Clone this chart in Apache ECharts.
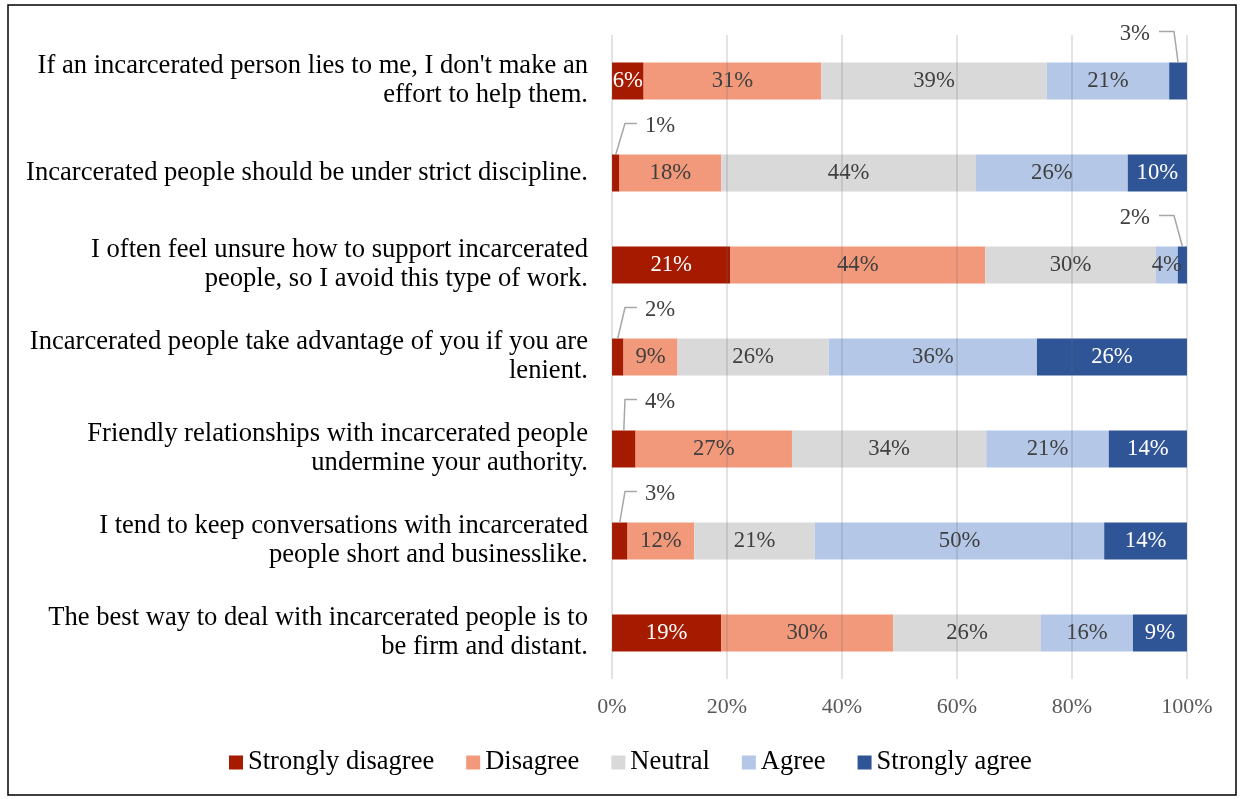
<!DOCTYPE html>
<html>
<head>
<meta charset="utf-8">
<script src="https://cdn.jsdelivr.net/npm/echarts@6/dist/echarts.min.js"></script>
<style>
  html, body { margin: 0; padding: 0; background: #fff; }
  #chart { width: 1241px; height: 799px; }
</style>
</head>
<body>
<div id="chart"></div>
<script>
// Survey statements (top to bottom)
const statements = [
  "If an incarcerated person lies to me, I don't make an\neffort to help them.",
  "Incarcerated people should be under strict discipline.",
  "I often feel unsure how to support incarcerated\npeople, so I avoid this type of work.",
  "Incarcerated people take advantage of you if you are\nlenient.",
  "Friendly relationships with incarcerated people\nundermine your authority.",
  "I tend to keep conversations with incarcerated\npeople short and businesslike.",
  "The best way to deal with incarcerated people is to\nbe firm and distant."
];

// Response categories
const responseNames = ['Strongly disagree', 'Disagree', 'Neutral', 'Agree', 'Strongly agree'];

// Share of responses per statement (%)
const stronglyDisagree = [5.5, 1.3, 20.6, 2.0, 4.1, 2.7, 19.0];
const disagree         = [30.9, 17.7, 44.3, 9.4, 27.2, 11.6, 29.9];
const neutral          = [39.2, 44.3, 29.7, 26.3, 33.8, 21.0, 25.7];
const agree            = [21.3, 26.4, 3.8, 36.2, 21.3, 50.3, 16.0];
const stronglyAgree    = [3.1, 10.3, 1.6, 26.1, 13.6, 14.4, 9.4];

// Axis tick values (%)
const xTicks = [0, 20, 40, 60, 80, 100];

// Segments too narrow for an inside label: [statement index, response index]
const calloutSegments = [[0, 4], [1, 0], [2, 4], [3, 0], [4, 0], [5, 0]];

const responseValues = [stronglyDisagree, disagree, neutral, agree, stronglyAgree];
const colors = ['#A61A00', '#F1997A', '#D9D9D9', '#B4C7E7', '#2F5597'];
const labelColors = ['#ffffff', '#404040', '#404040', '#404040', '#ffffff'];
const FONT = '"Liberation Serif", "Times New Roman", serif';
const BAR_H = 37;

const calloutKey = new Set(calloutSegments.map(c => c[0] + '-' + c[1]));

const barSeries = responseNames.map((name, s) => ({
  name: name,
  type: 'bar',
  stack: 'total',
  barWidth: BAR_H,
  itemStyle: { color: colors[s] },
  data: responseValues[s].map((v, i) => ({
    value: v,
    label: { show: !calloutKey.has(i + '-' + s) }
  })),
  label: {
    show: true,
    position: 'inside',
    color: labelColors[s],
    fontFamily: FONT,
    fontSize: 22.7,
    formatter: p => Math.round(p.value) + '%'
  },
  emphasis: { disabled: true }
}));

// Leader-line labels for the narrow segments
const calloutData = calloutSegments.map(([row, s]) => {
  let start = 0;
  for (let k = 0; k < s; k++) start += responseValues[k][row];
  return [start, responseValues[s][row], row, s === 0 ? 0 : 1];
});

const calloutSeries = {
  type: 'custom',
  name: 'callouts',
  coordinateSystem: 'cartesian2d',
  encode: { x: [0, 1], y: 2 },
  silent: true,
  z: 5,
  data: calloutData,
  renderItem: function (params, api) {
    const start = api.value(0), v = api.value(1), row = api.value(2), side = api.value(3);
    const mid = api.coord([start + v / 2, row]);
    const topY = mid[1] - BAR_H / 2;
    const labelY = mid[1] - 47;
    const elbowY = labelY - 2.5;
    let pts, tx, align;
    if (side === 0) {
      const x0 = api.coord([0, row])[0];
      pts = [[mid[0], topY], [x0 + 13, elbowY], [x0 + 25, elbowY]];
      tx = x0 + 33; align = 'left';
    } else {
      const x1 = api.coord([100, row])[0];
      pts = [[mid[0], topY], [x1 - 13, elbowY], [x1 - 28, elbowY]];
      tx = x1 - 37; align = 'right';
    }
    return {
      type: 'group',
      children: [
        { type: 'polyline', shape: { points: pts }, style: { stroke: '#A6A6A6', lineWidth: 1.5, fill: null } },
        { type: 'text', x: tx, y: labelY, style: {
            text: Math.round(v) + '%', fill: '#404040', font: '22.7px ' + FONT,
            align: align, verticalAlign: 'middle' } }
      ]
    };
  }
};

const chart = echarts.init(document.getElementById('chart'));
chart.setOption({
  animation: false,
  backgroundColor: '#ffffff',
  grid: { left: 612, right: 54, top: 35, bottom: 120, containLabel: false },
  xAxis: {
    type: 'value',
    min: xTicks[0],
    max: xTicks[xTicks.length - 1],
    interval: xTicks[1] - xTicks[0],
    z: 3,
    axisLine: { show: false },
    axisTick: { show: false },
    splitLine: { show: true, lineStyle: { color: 'rgba(110,110,110,0.26)', width: 1.5 } },
    axisLabel: {
      margin: 17,
      color: '#595959',
      fontFamily: FONT,
      fontSize: 22,
      formatter: v => v + '%'
    }
  },
  yAxis: {
    type: 'category',
    inverse: true,
    data: statements,
    axisLine: { show: false },
    axisTick: { show: false },
    axisLabel: {
      margin: 24,
      color: '#000000',
      fontFamily: FONT,
      fontSize: 26.6,
      lineHeight: 29,
      align: 'right',
      padding: [5, 0, 0, 0]
    }
  },
  legend: {
    data: responseNames,
    left: 229,
    top: 749,
    padding: 0,
    itemGap: 32,
    itemWidth: 14,
    itemHeight: 14,
    icon: 'rect',
    textStyle: { color: '#000000', fontFamily: FONT, fontSize: 26.5, padding: [0, 0, 0, 0] },
    selectedMode: false
  },
  graphic: [{
    type: 'rect',
    silent: true,
    shape: { x: 8, y: 5, width: 1228, height: 790 },
    style: { fill: null, stroke: '#000000', lineWidth: 1.5 }
  }],
  series: barSeries.concat([calloutSeries])
});
</script>
</body>
</html>
